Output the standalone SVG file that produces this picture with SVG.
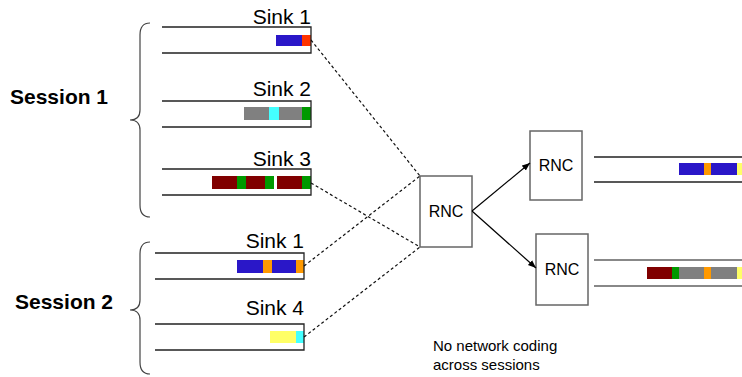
<svg xmlns="http://www.w3.org/2000/svg" width="742" height="377" viewBox="0 0 742 377">
  <defs>
    <marker id="arrow" viewBox="0 0 10 10" refX="10" refY="5" markerWidth="8" markerHeight="8" orient="auto-start-reverse" markerUnits="userSpaceOnUse">
      <path d="M0,1 L10,5 L0,9 z" fill="#000"/>
    </marker>
    <style>
      .bg { fill: #ffffff; }
      .label { font-family: "Liberation Sans", Arial, Helvetica, sans-serif; fill: #000; }
      .sink { font-size: 21px; text-anchor: end; }
      .session { font-size: 21px; font-weight: bold; }
      .rnc-text { font-size: 16px; text-anchor: middle; }
      .note { font-size: 15px; }
      .buf { fill: none; stroke: #222; stroke-width: 1.3; }
      .buf-grey { fill: none; stroke: #888; stroke-width: 2; }
      .brace { fill: none; stroke: #444; stroke-width: 1.2; }
      .box { fill: #fff; stroke: #666; stroke-width: 1.5; }
      .dash { fill: none; stroke: #111; stroke-width: 1.2; stroke-dasharray: 3 2.5; }
      .arrow { fill: none; stroke: #000; stroke-width: 1.2; marker-end: url(#arrow); }
      .blue { fill: #2a17c8; }
      .red { fill: #ff3300; }
      .grey { fill: #808080; }
      .cyan { fill: #44ffff; }
      .green { fill: #009900; }
      .maroon { fill: #800000; }
      .orange { fill: #ff9900; }
      .yellow { fill: #ffff66; }
    </style>
  </defs>
  <rect class="bg" x="0" y="0" width="742" height="377"/>

  <!-- Session labels and braces -->
  <g id="session1">
    <text class="label session" x="10" y="104">Session 1</text>
    <path class="brace" d="M150,23 Q140,23 140,35 L140,110 Q140,120 130,120 Q140,120 140,130 L140,205 Q140,217 150,217"/>
  </g>
  <g id="session2">
    <text class="label session" x="15" y="309">Session 2</text>
    <path class="brace" d="M150,242 Q140,242 140,254 L140,300 Q140,310 130,310 Q140,310 140,320 L140,362 Q140,374 150,374"/>
  </g>

  <!-- Session 1 sinks -->
  <g id="s1-sink1">
    <text class="label sink" x="311" y="24">Sink 1</text>
    <rect class="blue" x="276" y="35" width="26" height="11"/>
    <rect class="red" x="302" y="35" width="9" height="11"/>
    <path class="buf" d="M162,27 H311 V53 H162"/>
  </g>
  <g id="s1-sink2">
    <text class="label sink" x="311" y="96">Sink 2</text>
    <rect class="grey" x="244" y="107" width="25" height="13"/>
    <rect class="cyan" x="269" y="107" width="10" height="13"/>
    <rect class="grey" x="279" y="107" width="23" height="13"/>
    <rect class="green" x="302" y="107" width="9" height="13"/>
    <path class="buf" d="M162,101 H311 V127 H162"/>
  </g>
  <g id="s1-sink3">
    <text class="label sink" x="311" y="166">Sink 3</text>
    <rect class="maroon" x="212" y="176" width="25" height="13"/>
    <rect class="green" x="237" y="176" width="9" height="13"/>
    <rect class="maroon" x="246" y="176" width="19" height="13"/>
    <rect class="green" x="265" y="176" width="9" height="13"/>
    <rect class="maroon" x="277" y="176" width="25" height="13"/>
    <rect class="green" x="302" y="176" width="9" height="13"/>
    <path class="buf" d="M162,169 H311 V195 H162"/>
  </g>

  <!-- Session 2 sinks -->
  <g id="s2-sink1">
    <text class="label sink" x="304" y="248">Sink 1</text>
    <rect class="blue" x="237" y="260" width="26" height="13"/>
    <rect class="orange" x="263" y="260" width="9" height="13"/>
    <rect class="blue" x="272" y="260" width="24" height="13"/>
    <rect class="orange" x="296" y="260" width="8" height="13"/>
    <path class="buf" d="M155,253 H304 V279 H155"/>
  </g>
  <g id="s2-sink4">
    <text class="label sink" x="304" y="315">Sink 4</text>
    <rect class="yellow" x="270" y="331" width="26" height="12"/>
    <rect class="cyan" x="296" y="331" width="8" height="12"/>
    <path class="buf" d="M155,324 H304 V350 H155"/>
  </g>

  <!-- Coding nodes -->
  <g id="rnc-main">
    <rect class="box" x="420" y="176" width="52" height="71"/>
    <text class="label rnc-text" x="446" y="217">RNC</text>
  </g>
  <g id="rnc-top">
    <rect class="box" x="530" y="131" width="52" height="69"/>
    <text class="label rnc-text" x="556" y="171">RNC</text>
  </g>
  <g id="rnc-bottom">
    <rect class="box" x="536" y="234" width="52" height="71"/>
    <text class="label rnc-text" x="562" y="275">RNC</text>
  </g>

  <!-- Output buffers -->
  <g id="out-top">
    <rect class="blue" x="679" y="163" width="25" height="12"/>
    <rect class="orange" x="704" y="163" width="7" height="12"/>
    <rect class="blue" x="711" y="163" width="26" height="12"/>
    <rect class="yellow" x="737" y="163" width="5" height="12"/>
    <path class="buf" d="M594,157 H742 M594,182 H742"/>
  </g>
  <g id="out-bottom">
    <rect class="maroon" x="647" y="267" width="25" height="12"/>
    <rect class="green" x="672" y="267" width="7" height="12"/>
    <rect class="grey" x="679" y="267" width="25" height="12"/>
    <rect class="orange" x="704" y="267" width="7" height="12"/>
    <rect class="grey" x="711" y="267" width="26" height="12"/>
    <rect class="yellow" x="737" y="267" width="5" height="12"/>
    <path class="buf-grey" d="M594,260 H742 M594,286 H742"/>
  </g>

  <!-- Connectors -->
  <g id="connectors">
    <line class="dash" x1="311" y1="40" x2="420" y2="176"/>
    <line class="dash" x1="311" y1="183" x2="420" y2="247"/>
    <line class="dash" x1="304" y1="266" x2="420" y2="176"/>
    <line class="dash" x1="304" y1="337" x2="420" y2="247"/>
    <line class="arrow" x1="472" y1="211" x2="530" y2="163"/>
    <line class="arrow" x1="472" y1="211" x2="536" y2="268"/>
  </g>

  <text class="label note" x="433" y="351">No network coding</text>
  <text class="label note" x="433" y="370">across sessions</text>
</svg>
